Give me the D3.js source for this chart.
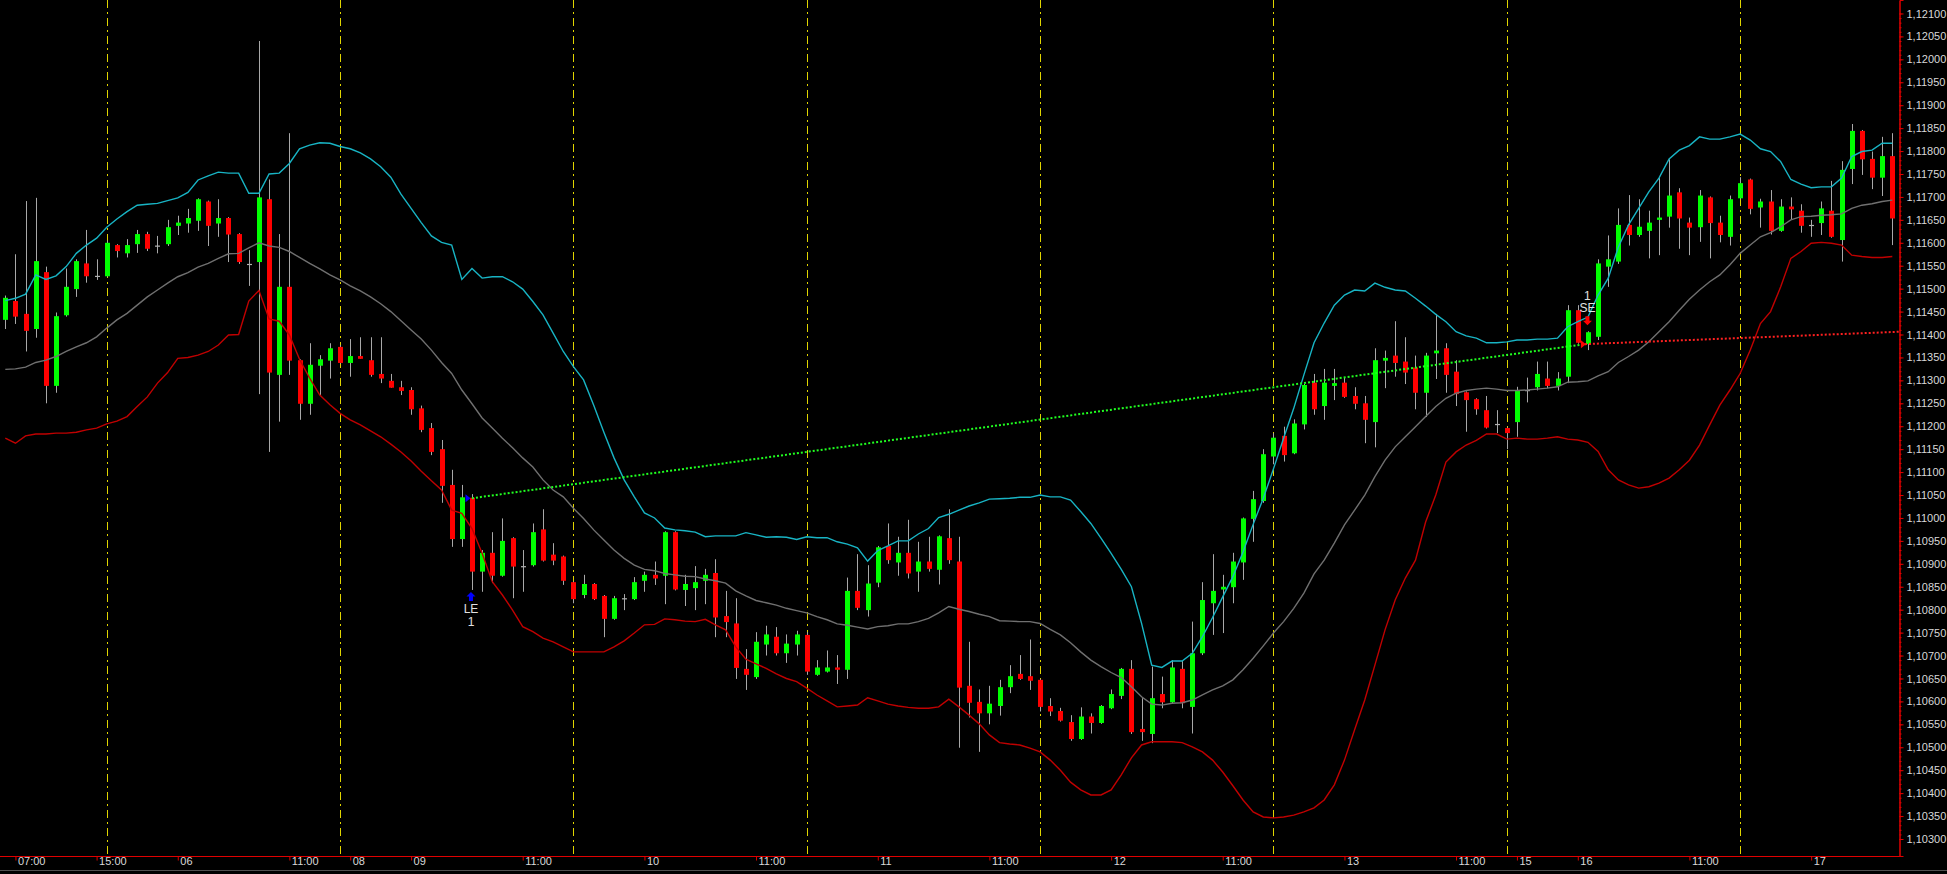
<!DOCTYPE html>
<html><head><meta charset="utf-8">
<script src="https://cdn.jsdelivr.net/npm/d3@7"></script>
<style>html,body{margin:0;padding:0;background:#000;overflow:hidden}</style>
</head><body>
<svg id="c" width="1947" height="874"></svg>
<script>
const opens=[1.11432,1.11473,1.11445,1.11412,1.11536,1.11288,1.11442,1.11499,1.11555,1.11528,
1.11527,1.11595,1.11577,1.11597,1.11619,1.11594,1.11597,1.11637,1.11642,1.11648,
1.11690,1.11642,1.11654,1.11619,1.11554,1.11558,1.11695,1.11312,1.11504,1.11344,
1.11249,1.11332,1.11343,1.11373,1.11338,1.11353,1.11344,1.11314,1.11299,1.11285,
1.11279,1.11239,1.11196,1.11150,1.11072,1.10954,1.11044,1.10883,1.10924,1.10874,
1.10956,1.10895,1.10897,1.10975,1.10920,1.10916,1.10860,1.10832,1.10856,1.10830,
1.10780,1.10825,1.10823,1.10863,1.10876,1.10874,1.10969,1.10843,1.10847,1.10863,
1.10880,1.10786,1.10770,1.10671,1.10653,1.10724,1.10741,1.10705,1.10724,1.10745,
1.10658,1.10665,1.10674,1.10669,1.10841,1.10799,1.10859,1.10939,1.10903,1.10924,
1.10883,1.10905,1.10887,1.10956,1.10905,1.10634,1.10599,1.10574,1.10590,1.10631,
1.10660,1.10655,1.10647,1.10590,1.10579,1.10555,1.10518,1.10567,1.10553,1.10585,
1.10612,1.10671,1.10540,1.10529,1.10616,1.10598,1.10671,1.10588,1.10705,1.10814,
1.10844,1.10849,1.10903,1.10998,1.11037,1.11134,1.11179,1.11141,1.11204,1.11295,
1.11244,1.11288,1.11295,1.11266,1.11250,1.11209,1.11343,1.11354,1.11341,1.11328,
1.11273,1.11359,1.11370,1.11319,1.11274,1.11259,1.11235,1.11205,1.11196,1.11209,
1.11279,1.11285,1.11304,1.11288,1.11308,1.11453,1.11379,1.11395,1.11548,1.11559,
1.11639,1.11617,1.11626,1.11650,1.11657,1.11710,1.11644,1.11634,1.11699,1.11644,
1.11613,1.11697,1.11738,1.11677,1.11690,1.11626,1.11679,1.11670,1.11639,1.11643,
1.11670,1.11606,1.11761,1.11844,1.11783,1.11742,1.11789];
const highs=[1.11485,1.11575,1.11691,1.11698,1.11548,1.11448,1.11544,1.11564,1.11628,1.11564,
1.11605,1.11597,1.11608,1.11628,1.11624,1.11615,1.11650,1.11659,1.11674,1.11697,
1.11692,1.11695,1.11656,1.11621,1.11584,1.12040,1.11738,1.11619,1.11839,1.11346,
1.11381,1.11355,1.11381,1.11377,1.11390,1.11394,1.11394,1.11394,1.11314,1.11299,
1.11285,1.11245,1.11207,1.11170,1.11105,1.11072,1.11052,1.10930,1.10969,1.10999,
1.10958,1.10930,1.10988,1.11019,1.10945,1.10918,1.10862,1.10876,1.10858,1.10832,
1.10830,1.10834,1.10871,1.10883,1.10905,1.10971,1.10971,1.10876,1.10895,1.10889,
1.10910,1.10841,1.10825,1.10714,1.10751,1.10765,1.10762,1.10746,1.10754,1.10751,
1.10690,1.10711,1.10701,1.10870,1.10921,1.10897,1.10939,1.10988,1.10959,1.10996,
1.10948,1.10959,1.10962,1.11019,1.10959,1.10730,1.10626,1.10634,1.10647,1.10679,
1.10701,1.10735,1.10649,1.10607,1.10586,1.10570,1.10587,1.10574,1.10592,1.10626,
1.10673,1.10690,1.10607,1.10676,1.10654,1.10690,1.10688,1.10774,1.10860,1.10921,
1.10876,1.10924,1.11001,1.11059,1.11150,1.11185,1.11199,1.11215,1.11292,1.11314,
1.11325,1.11325,1.11307,1.11285,1.11266,1.11370,1.11365,1.11429,1.11394,1.11354,
1.11360,1.11445,1.11381,1.11344,1.11276,1.11261,1.11266,1.11235,1.11198,1.11286,
1.11306,1.11341,1.11341,1.11318,1.11464,1.11464,1.11407,1.11564,1.11616,1.11675,
1.11704,1.11695,1.11670,1.11741,1.11782,1.11719,1.11655,1.11715,1.11701,1.11659,
1.11703,1.11743,1.11740,1.11696,1.11715,1.11695,1.11699,1.11684,1.11650,1.11690,
1.11735,1.11778,1.11859,1.11846,1.11799,1.11831,1.11839];
const lows=[1.11412,1.11423,1.11363,1.11393,1.11250,1.11273,1.11439,1.11482,1.11513,1.11519,
1.11525,1.11568,1.11568,1.11578,1.11582,1.11577,1.11593,1.11617,1.11622,1.11626,
1.11593,1.11613,1.11558,1.11554,1.11506,1.11270,1.11144,1.11210,1.11312,1.11214,
1.11225,1.11268,1.11304,1.11336,1.11308,1.11347,1.11308,1.11294,1.11284,1.11268,
1.11225,1.11187,1.11137,1.11033,1.10937,1.10937,1.10843,1.10839,1.10858,1.10872,
1.10825,1.10839,1.10894,1.10905,1.10897,1.10854,1.10814,1.10825,1.10821,1.10740,
1.10778,1.10799,1.10821,1.10839,1.10854,1.10812,1.10842,1.10808,1.10799,1.10812,
1.10740,1.10740,1.10649,1.10625,1.10649,1.10700,1.10700,1.10684,1.10700,1.10658,
1.10656,1.10663,1.10638,1.10649,1.10799,1.10785,1.10849,1.10900,1.10874,1.10868,
1.10839,1.10883,1.10855,1.10900,1.10499,1.10565,1.10490,1.10550,1.10569,1.10618,
1.10647,1.10625,1.10578,1.10568,1.10556,1.10514,1.10516,1.10530,1.10551,1.10583,
1.10605,1.10529,1.10514,1.10509,1.10585,1.10596,1.10585,1.10530,1.10701,1.10745,
1.10749,1.10814,1.10865,1.10948,1.11033,1.11117,1.11123,1.11139,1.11193,1.11225,
1.11214,1.11257,1.11262,1.11237,1.11163,1.11154,1.11283,1.11308,1.11292,1.11237,
1.11220,1.11303,1.11273,1.11244,1.11188,1.11225,1.11195,1.11185,1.11150,1.11177,
1.11252,1.11278,1.11283,1.11278,1.11294,1.11380,1.11366,1.11388,1.11504,1.11554,
1.11594,1.11613,1.11566,1.11573,1.11633,1.11587,1.11573,1.11602,1.11566,1.11601,
1.11594,1.11695,1.11662,1.11633,1.11618,1.11624,1.11650,1.11622,1.11613,1.11617,
1.11611,1.11559,1.11728,1.11748,1.11717,1.11702,1.11595];
const closes=[1.11480,1.11439,1.11408,1.11560,1.11288,1.11440,1.11504,1.11560,1.11527,1.11528,
1.11600,1.11582,1.11595,1.11619,1.11587,1.11594,1.11634,1.11644,1.11654,1.11695,
1.11637,1.11654,1.11618,1.11558,1.11554,1.11699,1.11317,1.11504,1.11343,1.11249,
1.11334,1.11346,1.11370,1.11338,1.11353,1.11347,1.11312,1.11304,1.11284,1.11277,
1.11237,1.11192,1.11144,1.11070,1.10954,1.11045,1.10883,1.10924,1.10874,1.10950,
1.10894,1.10895,1.10969,1.10907,1.10907,1.10863,1.10823,1.10856,1.10823,1.10780,
1.10825,1.10825,1.10860,1.10876,1.10868,1.10969,1.10844,1.10856,1.10860,1.10876,
1.10783,1.10773,1.10673,1.10658,1.10730,1.10746,1.10705,1.10726,1.10746,1.10665,
1.10674,1.10674,1.10669,1.10841,1.10804,1.10857,1.10936,1.10908,1.10924,1.10879,
1.10905,1.10889,1.10960,1.10908,1.10630,1.10597,1.10574,1.10595,1.10631,1.10655,
1.10649,1.10645,1.10588,1.10578,1.10558,1.10518,1.10567,1.10553,1.10590,1.10616,
1.10671,1.10533,1.10533,1.10607,1.10598,1.10674,1.10596,1.10705,1.10821,1.10841,
1.10850,1.10905,1.10999,1.11041,1.11139,1.11175,1.11137,1.11206,1.11290,1.11237,
1.11295,1.11294,1.11264,1.11249,1.11214,1.11344,1.11349,1.11338,1.11317,1.11273,
1.11354,1.11365,1.11312,1.11270,1.11257,1.11237,1.11197,1.11205,1.11185,1.11279,
1.11279,1.11314,1.11288,1.11304,1.11453,1.11382,1.11405,1.11555,1.11564,1.11639,
1.11617,1.11635,1.11644,1.11655,1.11703,1.11653,1.11633,1.11703,1.11643,1.11617,
1.11695,1.11730,1.11674,1.11690,1.11626,1.11679,1.11673,1.11637,1.11639,1.11675,
1.11613,1.11759,1.11844,1.11782,1.11742,1.11789,1.11653];
const upperBand=[1.11474,1.11479,1.11488,1.11530,1.11520,1.11528,1.11548,1.11577,1.11595,1.11610,
1.11634,1.11652,1.11668,1.11682,1.11684,1.11686,1.11692,1.11698,1.11710,1.11737,
1.11746,1.11754,1.11752,1.11752,1.11708,1.11708,1.11750,1.11752,1.11773,1.11805,
1.11813,1.11818,1.11817,1.11810,1.11805,1.11796,1.11783,1.11766,1.11743,1.11706,
1.11675,1.11644,1.11615,1.11601,1.11595,1.11520,1.11544,1.11523,1.11526,1.11526,
1.11515,1.11499,1.11472,1.11443,1.11403,1.11363,1.11330,1.11301,1.11246,1.11187,
1.11131,1.11083,1.11046,1.11011,1.11000,1.10978,1.10974,1.10972,1.10969,1.10959,
1.10961,1.10961,1.10961,1.10968,1.10963,1.10958,1.10959,1.10958,1.10953,1.10959,
1.10957,1.10957,1.10948,1.10943,1.10935,1.10906,1.10929,1.10939,1.10950,1.10950,
1.10965,1.10977,1.11001,1.11008,1.11017,1.11026,1.11033,1.11041,1.11042,1.11043,
1.11045,1.11045,1.11050,1.11046,1.11046,1.11039,1.11014,1.10988,1.10956,1.10923,
1.10888,1.10850,1.10770,1.10679,1.10674,1.10688,1.10688,1.10705,1.10741,1.10783,
1.10828,1.10872,1.10926,1.10986,1.11043,1.11107,1.11174,1.11239,1.11312,1.11382,
1.11425,1.11464,1.11486,1.11497,1.11495,1.11512,1.11503,1.11497,1.11495,1.11479,
1.11462,1.11444,1.11428,1.11406,1.11397,1.11392,1.11382,1.11382,1.11384,1.11388,
1.11388,1.11390,1.11390,1.11392,1.11417,1.11428,1.11438,1.11486,1.11523,1.11591,
1.11639,1.11675,1.11711,1.11741,1.11783,1.11802,1.11812,1.11831,1.11826,1.11826,
1.11831,1.11837,1.11824,1.11805,1.11799,1.11777,1.11738,1.11728,1.11720,1.11722,
1.11722,1.11741,1.11788,1.11799,1.11802,1.11817,1.11817];
const middleBand=[1.11324,1.11325,1.11329,1.11339,1.11344,1.11352,1.11363,1.11373,1.11382,1.11395,
1.11414,1.11432,1.11446,1.11464,1.11482,1.11497,1.11512,1.11526,1.11535,1.11547,
1.11555,1.11566,1.11576,1.11577,1.11589,1.11600,1.11593,1.11590,1.11581,1.11568,
1.11555,1.11543,1.11530,1.11519,1.11506,1.11495,1.11482,1.11467,1.11450,1.11430,
1.11410,1.11390,1.11366,1.11339,1.11315,1.11279,1.11249,1.11218,1.11196,1.11174,
1.11153,1.11131,1.11111,1.11083,1.11061,1.11046,1.11021,1.10999,1.10974,1.10952,
1.10930,1.10912,1.10897,1.10888,1.10885,1.10879,1.10876,1.10873,1.10872,1.10867,
1.10863,1.10858,1.10841,1.10830,1.10820,1.10815,1.10810,1.10803,1.10798,1.10793,
1.10785,1.10778,1.10769,1.10766,1.10762,1.10758,1.10763,1.10765,1.10769,1.10769,
1.10774,1.10781,1.10793,1.10807,1.10801,1.10796,1.10790,1.10785,1.10776,1.10775,
1.10774,1.10774,1.10770,1.10757,1.10745,1.10728,1.10708,1.10690,1.10676,1.10663,
1.10652,1.10632,1.10610,1.10594,1.10592,1.10596,1.10597,1.10603,1.10614,1.10625,
1.10634,1.10647,1.10669,1.10694,1.10721,1.10749,1.10774,1.10803,1.10836,1.10878,
1.10908,1.10945,1.10985,1.11017,1.11050,1.11090,1.11126,1.11155,1.11177,1.11199,
1.11221,1.11243,1.11261,1.11272,1.11278,1.11281,1.11283,1.11281,1.11278,1.11278,
1.11279,1.11281,1.11283,1.11286,1.11296,1.11297,1.11299,1.11310,1.11319,1.11339,
1.11352,1.11366,1.11384,1.11406,1.11428,1.11453,1.11477,1.11497,1.11515,1.11530,
1.11552,1.11577,1.11595,1.11613,1.11622,1.11635,1.11650,1.11657,1.11658,1.11660,
1.11661,1.11663,1.11675,1.11682,1.11685,1.11690,1.11693];
const lowerBand=[1.11174,1.11163,1.11179,1.11183,1.11183,1.11185,1.11185,1.11187,1.11192,1.11196,
1.11205,1.11211,1.11221,1.11243,1.11264,1.11294,1.11317,1.11348,1.11350,1.11355,
1.11363,1.11377,1.11399,1.11400,1.11473,1.11496,1.11434,1.11429,1.11399,1.11346,
1.11305,1.11268,1.11247,1.11228,1.11214,1.11203,1.11190,1.11177,1.11161,1.11144,
1.11124,1.11102,1.11081,1.11061,1.11017,1.11010,1.10977,1.10923,1.10861,1.10832,
1.10799,1.10763,1.10752,1.10738,1.10730,1.10719,1.10708,1.10708,1.10708,1.10708,
1.10719,1.10732,1.10749,1.10767,1.10768,1.10780,1.10778,1.10775,1.10774,1.10779,
1.10767,1.10756,1.10719,1.10692,1.10682,1.10672,1.10660,1.10650,1.10643,1.10629,
1.10614,1.10601,1.10588,1.10590,1.10592,1.10608,1.10601,1.10594,1.10590,1.10587,
1.10585,1.10585,1.10588,1.10605,1.10588,1.10570,1.10551,1.10527,1.10510,1.10507,
1.10505,1.10498,1.10490,1.10472,1.10450,1.10424,1.10407,1.10396,1.10396,1.10407,
1.10440,1.10477,1.10505,1.10512,1.10512,1.10512,1.10510,1.10501,1.10490,1.10472,
1.10446,1.10416,1.10385,1.10359,1.10348,1.10346,1.10348,1.10352,1.10359,1.10368,
1.10385,1.10418,1.10472,1.10538,1.10603,1.10679,1.10756,1.10821,1.10869,1.10908,
1.10991,1.11050,1.11122,1.11144,1.11159,1.11169,1.11183,1.11183,1.11172,1.11174,
1.11172,1.11172,1.11174,1.11177,1.11172,1.11170,1.11165,1.11145,1.11105,1.11083,
1.11072,1.11065,1.11068,1.11076,1.11087,1.11105,1.11126,1.11159,1.11203,1.11246,
1.11279,1.11315,1.11366,1.11424,1.11450,1.11504,1.11566,1.11581,1.11599,1.11601,
1.11599,1.11595,1.11573,1.11570,1.11568,1.11568,1.11570];
const xTickIndex=[1,9,17,28,34,40,51,63,74,86,97,109,120,132,143,149,155,166,178];
const xTickLabels=["07:00","15:00","06","11:00","08","09","11:00","10","11:00","11","11:00","12","11:00","13","11:00","15","16","11:00","17"];
const separatorIndex=[10,33,56,79,102,125,148,171];
const yTickValues=d3.range(0,37).map(k=>+(1.103+k*0.0005).toFixed(4));
const yMinorValues=d3.range(0,181).map(k=>+(1.103+k*0.0001).toFixed(4));
// trade path: long entry -> short entry, then open short
const longTradeIdx=[46,155.7], longTradePrice=[1.11043,1.11379];
const shortTradeIdx=[155.7,186.66], shortTradePrice=[1.11379,1.11406];
const longEntry={idx:46,price:1.11043,label:"LE",qty:"1",low:1.10843};
const shortEntry={idx:156,price:1.11379,label:"SE",qty:"1",high:1.11407};

const W=1947,H=874,plotR=1899,plotB=856;
const svg=d3.select("#c");
svg.append("rect").attr("width",W).attr("height",H).attr("fill","#000");
const x=d3.scaleLinear().domain([-0.5224,186.66]).range([0,plotR]);
const y=d3.scaleLinear().domain([1.102629,1.121294]).range([plotB,0]);
const px=v=>Math.round(x(v))+0.5;

// separators
svg.append("g").selectAll("line").data(separatorIndex).join("line")
 .attr("x1",d=>px(d)).attr("x2",d=>px(d)).attr("y1",0).attr("y2",plotB)
 .attr("stroke","#e0d400").attr("stroke-width",1).attr("stroke-dasharray","8,4,2,4");

// candles
const idx=d3.range(opens.length);
const cg=svg.append("g");
cg.selectAll("line.w").data(idx).join("line").attr("class","w")
 .attr("x1",i=>px(i)).attr("x2",i=>px(i))
 .attr("y1",i=>y(highs[i])).attr("y2",i=>y(lows[i]))
 .attr("stroke","#a8a8a8").attr("stroke-width",1);
cg.selectAll("rect.b").data(idx).join("rect").attr("class","b")
 .attr("x",i=>Math.round(x(i))-2).attr("width",5)
 .attr("y",i=>y(Math.max(opens[i],closes[i])))
 .attr("height",i=>Math.max(1.2,Math.abs(y(opens[i])-y(closes[i]))))
 .attr("fill",i=>closes[i]>opens[i]?"#00ff00":(closes[i]<opens[i]?"#ff0000":"#b0b0b0"));

// bands
const line=arr=>d3.line().x((d,i)=>x(i)).y(d=>y(d))(arr);
svg.append("path").attr("d",line(middleBand)).attr("fill","none").attr("stroke","#707070").attr("stroke-width",1.4);
svg.append("path").attr("d",line(upperBand)).attr("fill","none").attr("stroke","#18b4c4").attr("stroke-width",1.4);
svg.append("path").attr("d",line(lowerBand)).attr("fill","none").attr("stroke","#c00000").attr("stroke-width",1.4);

// trade lines
svg.append("line").attr("x1",x(longTradeIdx[0])).attr("y1",y(longTradePrice[0]))
 .attr("x2",x(longTradeIdx[1])).attr("y2",y(longTradePrice[1]))
 .attr("stroke","#20ff20").attr("stroke-width",2).attr("stroke-dasharray","2,2");
svg.append("line").attr("x1",x(shortTradeIdx[0])).attr("y1",y(shortTradePrice[0]))
 .attr("x2",x(shortTradeIdx[1])).attr("y2",y(shortTradePrice[1]))
 .attr("stroke","#ff2020").attr("stroke-width",2).attr("stroke-dasharray","2,2");

// entry markers (triangles at entry price)
{
 const lx=x(longEntry.idx)-1.5, ly=y(longEntry.price);
 svg.append("path").attr("d",`M${lx-5},${ly-4}L${lx},${ly}L${lx-5},${ly+4}Z`).attr("fill","#0000ff");
 const sx=x(shortEntry.idx)-2, sy=y(shortEntry.price);
 svg.append("path").attr("d",`M${sx-5},${sy-4}L${sx},${sy}L${sx-5},${sy+4}Z`).attr("fill","#ff0000");
 // LE arrow (up) below low
 const ax=x(longEntry.idx)-1, ay=y(longEntry.low)+2;
 svg.append("path").attr("d",`M${ax},${ay}L${ax+4.5},${ay+4.5}L${ax+2},${ay+4.5}L${ax+2},${ay+9}L${ax-2},${ay+9}L${ax-2},${ay+4.5}L${ax-4.5},${ay+4.5}Z`).attr("fill","#0000ff");
 svg.append("text").attr("x",ax).attr("y",ay+21).attr("text-anchor","middle").attr("fill","#e0e0e0")
  .attr("font-family","Liberation Sans, Arial, sans-serif").attr("font-size",12).text(longEntry.label);
 svg.append("text").attr("x",ax).attr("y",ay+34).attr("text-anchor","middle").attr("fill","#e0e0e0")
  .attr("font-family","Liberation Sans, Arial, sans-serif").attr("font-size",12).text(longEntry.qty);
 // SE arrow (down) above high
 const bx=x(shortEntry.idx)-0.5, by=y(shortEntry.high)-6;
 svg.append("path").attr("d",`M${bx},${by}L${bx+4.5},${by-4.5}L${bx+2},${by-4.5}L${bx+2},${by-9}L${bx-2},${by-9}L${bx-2},${by-4.5}L${bx-4.5},${by-4.5}Z`).attr("fill","#ff0000");
 svg.append("text").attr("x",bx).attr("y",by-13).attr("text-anchor","middle").attr("fill","#e0e0e0")
  .attr("font-family","Liberation Sans, Arial, sans-serif").attr("font-size",12).text(shortEntry.label);
 svg.append("text").attr("x",bx).attr("y",by-25).attr("text-anchor","middle").attr("fill","#e0e0e0")
  .attr("font-family","Liberation Sans, Arial, sans-serif").attr("font-size",12).text(shortEntry.qty);
}

// axes
const fmt=d=>d3.format(".5f")(d).replace(".",",");
const yMinor=svg.append("g").attr("transform",`translate(${plotR+0.5},0)`)
 .call(d3.axisRight(y).tickValues(yMinorValues).tickSize(2).tickFormat(""));
const yAx=svg.append("g").attr("transform",`translate(${plotR+0.5},0)`)
 .call(d3.axisRight(y).tickValues(yTickValues).tickSize(4).tickPadding(3).tickFormat(fmt));
[yMinor,yAx].forEach(g=>{g.selectAll("path,line").attr("stroke","#e00000");});
yAx.selectAll("text").attr("fill","#d8d8d8").attr("font-family","Liberation Sans, Arial, sans-serif").attr("font-size",11);
const xAx=svg.append("g").attr("transform",`translate(0,${plotB+0.5})`)
 .call(d3.axisBottom(x).tickValues(xTickIndex).tickSize(4).tickFormat((d,i)=>xTickLabels[i]));
xAx.select("path").attr("d",`M0,0H${plotR+1}`);
xAx.selectAll("path,line").attr("stroke","#e00000");
xAx.selectAll("text").attr("fill","#d8d8d8").attr("font-family","Liberation Sans Narrow, Arial Narrow, Liberation Sans, sans-serif")
 .attr("font-size",11).attr("text-anchor","start").attr("dx",2).attr("dy","0.1em");
svg.append("line").attr("x1",0).attr("x2",W).attr("y1",870.5).attr("y2",870.5).attr("stroke","#505050");
</script>
</body></html>
